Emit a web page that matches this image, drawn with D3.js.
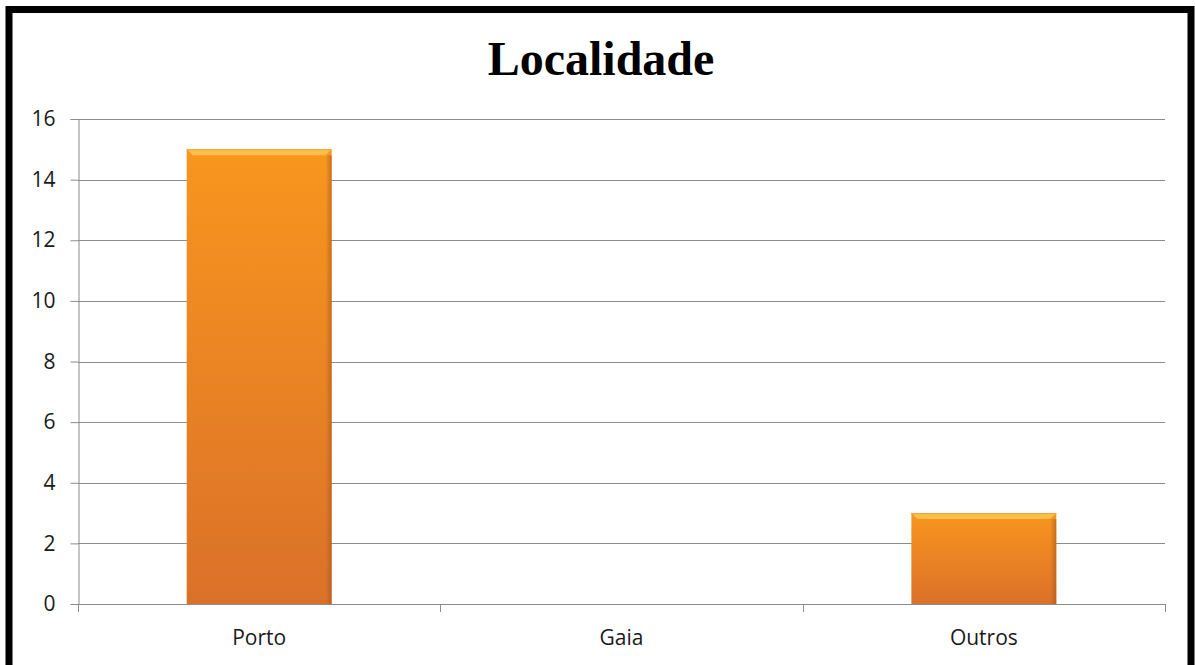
<!DOCTYPE html>
<html><head><meta charset="utf-8">
<script src="https://cdn.jsdelivr.net/npm/d3@7"></script>
<style>html,body{margin:0;padding:0;background:#fff;}svg{display:block;}</style>
</head><body>
<script>
const categories = ["Porto", "Gaia", "Outros"];
const values = [15, 0, 3];
const yTicks = [0, 2, 4, 6, 8, 10, 12, 14, 16];
const title = "Localidade";

(function () {
const W = 1195, H = 665;
const svg = d3.select("body").append("svg").attr("width", W).attr("height", H);
const FONT = "'Open Sans', 'Liberation Sans', sans-serif";

svg.append("rect").attr("x", 0).attr("y", 0).attr("width", W).attr("height", H).attr("fill", "#fff");
svg.append("rect").attr("x", 9).attr("y", 9.5).attr("width", 1182).attr("height", 700)
  .attr("fill", "none").attr("stroke", "#000").attr("stroke-width", 7);

const pL = 78, pR = 1165, pT = 119, pB = 604;
const x = d3.scaleBand().domain(categories).range([pL, pR]).paddingInner(0.6).paddingOuter(0.3);
const y = d3.scaleLinear().domain([0, 16]).range([pB, pT]);

const defs = svg.append("defs");
const g = defs.append("linearGradient").attr("id", "barGrad").attr("x1", 0).attr("y1", 0).attr("x2", 0).attr("y2", 1);
g.append("stop").attr("offset", "0%").attr("stop-color", "#F8961E");
g.append("stop").attr("offset", "100%").attr("stop-color", "#DA7129");
const sg = defs.append("linearGradient").attr("id", "shadeR").attr("x1", 0).attr("y1", 0).attr("x2", 1).attr("y2", 0);
sg.append("stop").attr("offset", "0%").attr("stop-color", "#a9531a").attr("stop-opacity", 0);
sg.append("stop").attr("offset", "100%").attr("stop-color", "#a9531a").attr("stop-opacity", 0.6);

// gridlines
svg.append("g").selectAll("line").data(yTicks.filter(d => d > 0)).join("line")
  .attr("x1", pL).attr("x2", pR)
  .attr("y1", d => Math.round(y(d)) + 0.5).attr("y2", d => Math.round(y(d)) + 0.5)
  .attr("stroke", "#8c8c8c").attr("stroke-width", 1);

// y axis
const yAxis = svg.append("g").attr("transform", `translate(${pL + 0.5},0)`)
  .call(d3.axisLeft(y).tickValues(yTicks).tickSize(8).tickPadding(15).tickFormat(d3.format("d")));
yAxis.select(".domain").attr("stroke", "#8c8c8c");
yAxis.selectAll(".tick line").attr("stroke", "#8c8c8c");
yAxis.selectAll(".tick text").attr("font-family", FONT)
  .attr("font-size", 21).attr("fill", "#1a1a1a");

// x axis
const xAxis = svg.append("g").attr("transform", `translate(0,${pB + 0.5})`)
  .call(d3.axisBottom(x).tickSize(0).tickPadding(26));
xAxis.select(".domain").remove();
xAxis.selectAll(".tick text").attr("font-family", FONT)
  .attr("font-size", 21).attr("fill", "#1a1a1a");
svg.append("line").attr("x1", pL).attr("x2", pR).attr("y1", pB + 0.5).attr("y2", pB + 0.5)
  .attr("stroke", "#8c8c8c");
const step = (pR - pL) / categories.length;
svg.append("g").selectAll("line").data(d3.range(categories.length + 1)).join("line")
  .attr("x1", i => Math.round(pL + i * step) + 0.5).attr("x2", i => Math.round(pL + i * step) + 0.5)
  .attr("y1", pB).attr("y2", pB + 8).attr("stroke", "#8c8c8c");

// bars
const data = categories.map((c, i) => ({c, v: values[i]})).filter(d => d.v > 0);
const bars = svg.append("g").selectAll("g").data(data).join("g");
bars.append("rect")
  .attr("x", d => x(d.c)).attr("y", d => y(d.v))
  .attr("width", x.bandwidth()).attr("height", d => y(0) - y(d.v))
  .attr("fill", "url(#barGrad)");
bars.append("rect")
  .attr("x", d => x(d.c) + x.bandwidth() - 6).attr("y", d => y(d.v) + 6)
  .attr("width", 6).attr("height", d => y(0) - y(d.v) - 6)
  .attr("fill", "url(#shadeR)");
bars.append("path")
  .attr("d", d => {
    const x0 = x(d.c), x1 = x0 + x.bandwidth(), y0 = y(d.v), b = 6;
    return `M${x0},${y0}L${x1},${y0}L${x1 - b},${y0 + b}L${x0 + b},${y0 + b}Z`;
  })
  .attr("fill", "#FCC34E").attr("opacity", 0.9);
bars.append("line")
  .attr("x1", d => x(d.c)).attr("x2", d => x(d.c) + x.bandwidth())
  .attr("y1", d => y(d.v) + 0.5).attr("y2", d => y(d.v) + 0.5)
  .attr("stroke", "#f2a23a").attr("stroke-width", 1);

// title
svg.append("text").attr("x", 601).attr("y", 75).attr("text-anchor", "middle")
  .attr("font-family", "'Liberation Serif', 'Times New Roman', serif").attr("font-weight", "bold")
  .attr("font-size", 48).attr("fill", "#000").text(title);
})();
</script>
</body></html>
